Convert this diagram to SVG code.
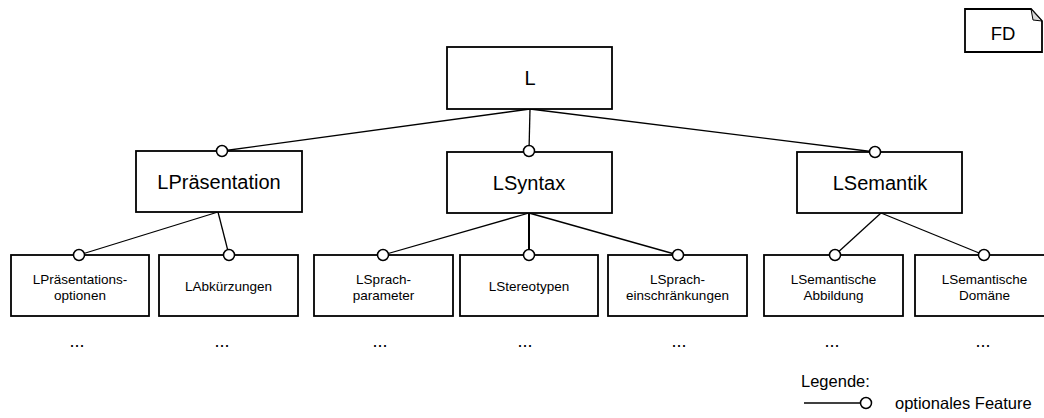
<svg xmlns="http://www.w3.org/2000/svg" width="1044" height="418" viewBox="0 0 1044 418">
  <style>
    .box { fill: #ffffff; stroke: #000000; stroke-width: 1.8; }
    .edge { stroke: #000000; stroke-width: 1.3; fill: none; }
    .opt { fill: #ffffff; stroke: #000000; stroke-width: 1.5; }
    text { font-family: "Liberation Sans", Arial, sans-serif; fill: #000000; text-anchor: middle; }
    .t1 { font-size: 20px; }
    .t2 { font-size: 20px; }
    .t3 { font-size: 13.5px; }
    .dots { font-size: 18px; }
    .leg { font-size: 16.5px; text-anchor: start; }
  </style>

  <!-- feature tree connectors -->
  <g id="connectors">
    <line class="edge" x1="530" y1="109" x2="222" y2="151"/>
    <line class="edge" x1="530" y1="109" x2="529" y2="151"/>
    <line class="edge" x1="530" y1="109" x2="875" y2="152"/>
    <line class="edge" x1="218" y1="212" x2="79" y2="255"/>
    <line class="edge" x1="218" y1="212" x2="229" y2="255"/>
    <line class="edge" x1="529" y1="213" x2="383" y2="255"/>
    <line class="edge" x1="529" y1="213" x2="529" y2="255" style="stroke-width:2"/>
    <line class="edge" x1="529" y1="213" x2="678" y2="255"/>
    <line class="edge" x1="881" y1="213" x2="835" y2="255"/>
    <line class="edge" x1="881" y1="213" x2="984" y2="255"/>
  </g>

  <!-- root -->
  <g id="node-L">
    <rect class="box" x="447" y="47" width="165" height="62"/>
    <text class="t1" x="530" y="85">L</text>
  </g>

  <!-- level 2 -->
  <g id="node-LPraesentation">
    <rect class="box" x="136" y="151" width="166" height="61"/>
    <text class="t2" x="219" y="189">LPräsentation</text>
    <circle class="opt" cx="222" cy="151" r="5.5"/>
  </g>
  <g id="node-LSyntax">
    <rect class="box" x="447" y="152" width="165" height="61"/>
    <text class="t2" x="529" y="190">LSyntax</text>
    <circle class="opt" cx="529" cy="151" r="5.5"/>
  </g>
  <g id="node-LSemantik">
    <rect class="box" x="797" y="152" width="165" height="61"/>
    <text class="t2" x="880" y="190">LSemantik</text>
    <circle class="opt" cx="875" cy="152" r="5.5"/>
  </g>

  <!-- level 3 -->
  <g id="node-LPraesentationsoptionen">
    <rect class="box" x="11" y="255" width="138" height="61"/>
    <text class="t3" x="80" y="283.5">LPräsentations-</text>
    <text class="t3" x="80" y="299.5">optionen</text>
    <circle class="opt" cx="79" cy="255" r="5.5"/>
  </g>
  <g id="node-LAbkuerzungen">
    <rect class="box" x="159" y="255" width="139" height="61"/>
    <text class="t3" x="228.5" y="291">LAbkürzungen</text>
    <circle class="opt" cx="229" cy="255" r="5.5"/>
  </g>
  <g id="node-LSprachparameter">
    <rect class="box" x="314" y="255" width="139" height="61"/>
    <text class="t3" x="383.5" y="283.5">LSprach-</text>
    <text class="t3" x="383.5" y="299.5">parameter</text>
    <circle class="opt" cx="383" cy="255" r="5.5"/>
  </g>
  <g id="node-LStereotypen">
    <rect class="box" x="460" y="255" width="138" height="61"/>
    <text class="t3" x="529" y="291">LStereotypen</text>
    <circle class="opt" cx="529" cy="255" r="5.5"/>
  </g>
  <g id="node-LSpracheinschraenkungen">
    <rect class="box" x="608" y="255" width="139" height="61"/>
    <text class="t3" x="677.5" y="283.5">LSprach-</text>
    <text class="t3" x="677.5" y="299.5">einschränkungen</text>
    <circle class="opt" cx="678" cy="255" r="5.5"/>
  </g>
  <g id="node-LSemantischeAbbildung">
    <rect class="box" x="764" y="255" width="139" height="61"/>
    <text class="t3" x="833.5" y="283.5">LSemantische</text>
    <text class="t3" x="833.5" y="299.5">Abbildung</text>
    <circle class="opt" cx="835" cy="255" r="5.5"/>
  </g>
  <g id="node-LSemantischeDomaene">
    <rect class="box" x="915" y="255" width="139" height="61"/>
    <text class="t3" x="984.5" y="283.5">LSemantische</text>
    <text class="t3" x="984.5" y="299.5">Domäne</text>
    <circle class="opt" cx="984" cy="255" r="5.5"/>
  </g>

  <!-- continuation marks -->
  <g id="continuations">
    <text class="dots" x="77" y="347">...</text>
    <text class="dots" x="222" y="347">...</text>
    <text class="dots" x="380" y="347">...</text>
    <text class="dots" x="525" y="347">...</text>
    <text class="dots" x="679" y="347">...</text>
    <text class="dots" x="832" y="347">...</text>
    <text class="dots" x="983" y="347">...</text>
  </g>

  <!-- diagram kind tag -->
  <g id="tag-FD">
    <path class="box" d="M965 9 H1031 L1042 21 V52 H965 Z"/>
    <path d="M1031 9 L1033 20 L1042 21 Z" fill="#d9d9d9" stroke="#000" stroke-width="1"/>
    <text x="1003" y="40" style="font-size:18.5px">FD</text>
  </g>

  <!-- legend -->
  <g id="legend">
    <text class="leg" x="801" y="387">Legende:</text>
    <line class="edge" x1="804" y1="403" x2="861" y2="403"/>
    <circle class="opt" cx="866" cy="403" r="5.5"/>
    <text class="leg" x="895" y="409">optionales Feature</text>
  </g>
</svg>
